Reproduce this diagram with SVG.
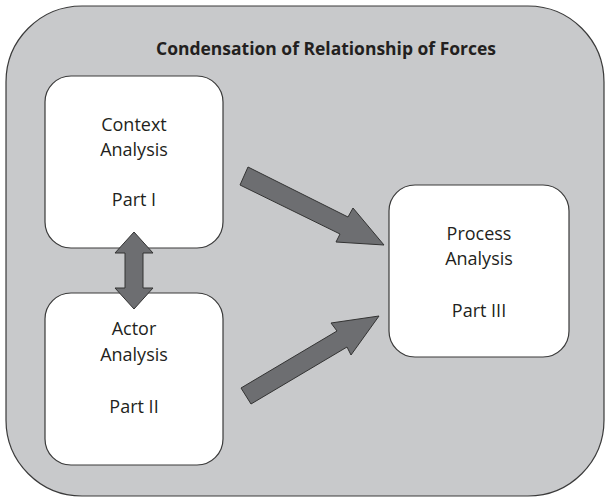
<svg xmlns="http://www.w3.org/2000/svg" width="606" height="498" viewBox="0 0 606 498">
<style>
.frame{fill:#c8c9cb;stroke:#3a3a3a;stroke-width:1.2}
.box{fill:#ffffff;stroke:#3a3a3a;stroke-width:1.2}
.arrow{fill:#6d6e71;stroke:#333333;stroke-width:1}
text{font-family:"Open Sans","Liberation Sans",sans-serif;fill:#231f20;text-anchor:middle}
.lbl{font-size:18px}
.title{font-size:17px;font-weight:bold}
</style>
<g id="frame">
<rect class="frame" x="6" y="6" width="598" height="490" rx="76" ry="76"/>
<text class="title" x="326" y="55" textLength="340" lengthAdjust="spacingAndGlyphs">Condensation of Relationship of Forces</text>
</g>
<g id="context">
<rect class="box" x="45" y="76" width="178" height="172" rx="26" ry="26"/>
<text class="lbl" x="134" y="131">Context</text>
<text class="lbl" x="134" y="156">Analysis</text>
<text class="lbl" x="134" y="206">Part I</text>
</g>
<g id="actor">
<rect class="box" x="45" y="293" width="178" height="172" rx="26" ry="26"/>
<text class="lbl" x="134" y="335">Actor</text>
<text class="lbl" x="134" y="361">Analysis</text>
<text class="lbl" x="134" y="413">Part II</text>
</g>
<g id="process">
<rect class="box" x="389" y="185" width="180" height="172" rx="26" ry="26"/>
<text class="lbl" x="479" y="240">Process</text>
<text class="lbl" x="479" y="265">Analysis</text>
<text class="lbl" x="479" y="317">Part III</text>
</g>
<g id="connectors">
<polygon class="arrow" points="134,232 153,253 143,253 143,288 153,288 134,309 115,288 125,288 125,253 115,253"/>
<polygon class="arrow" points="248,167 348,217 353,208 384,245 336,242 340,234 240,185"/>
<polygon class="arrow" points="241,388 337,331 331,323 379,316 351,355 347,347 251,404"/>
</g>
</svg>
